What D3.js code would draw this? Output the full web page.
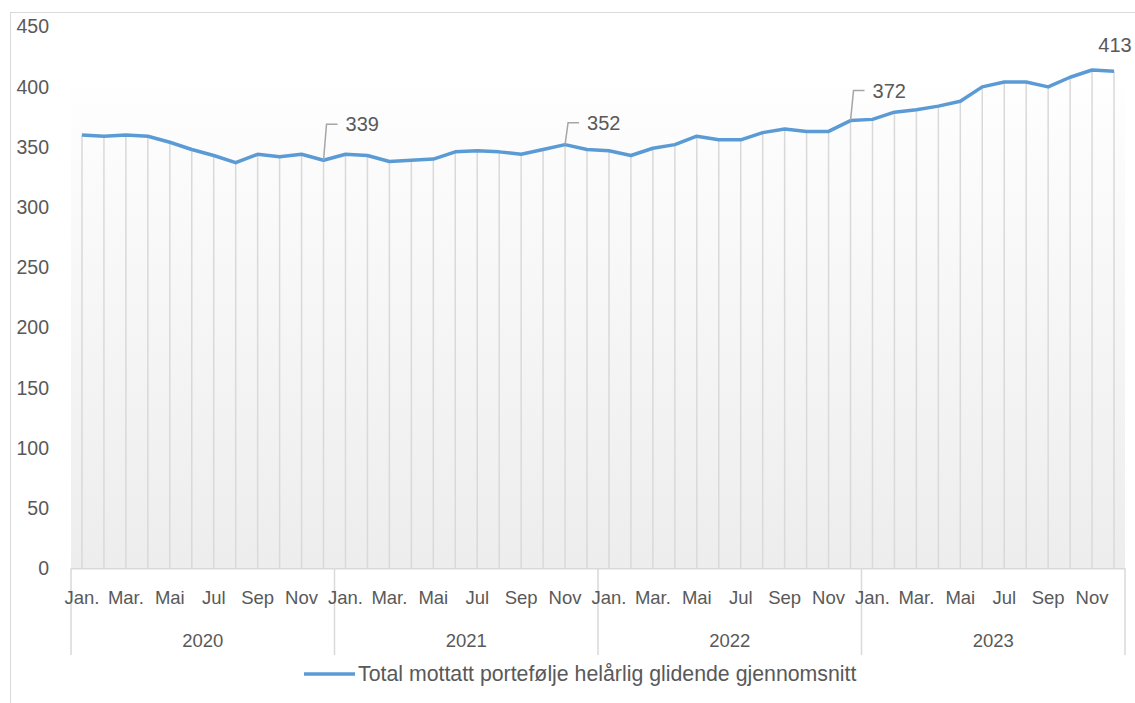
<!DOCTYPE html>
<html>
<head>
<meta charset="utf-8">
<script src="https://cdn.jsdelivr.net/npm/d3@7"></script>
<style>
  body { margin: 0; background: #fff; }
  text { font-family: "Liberation Sans", Arial, sans-serif; fill: #595959; }
</style>
</head>
<body>
<div id="myplot"></div>
<script>
// data
var years = ["2020", "2021", "2022", "2023"];
var monthLabels = ["Jan.", "", "Mar.", "", "Mai", "", "Jul", "", "Sep", "", "Nov", ""];
var values = [
  360, 359, 360, 359, 354, 348, 343, 337, 344, 342, 344, 339,
  344, 343, 338, 339, 340, 346, 347, 346, 344, 348, 352, 348,
  347, 343, 349, 352, 359, 356, 356, 362, 365, 363, 363, 372,
  373, 379, 381, 384, 388, 400, 404, 404, 400, 408, 414, 413
];
var labelIdx = [11, 22, 35, 47];
var yTicks = [0, 50, 100, 150, 200, 250, 300, 350, 400, 450];
var seriesName = "Total mottatt portefølje helårlig glidende gjennomsnitt";

var svg = d3.select('div#myplot')
  .append('svg')
  .attr('width', 1135)
  .attr('height', 703);

// chart frame
svg.append("rect")
  .attr("x", 10.5).attr("y", 12.5)
  .attr("width", 1140).attr("height", 700)
  .attr("fill", "none")
  .attr("stroke", "#d9d9d9");

var x = d3.scaleBand()
  .domain(d3.range(values.length))
  .range([71, 1125]);

var y = d3.scaleLinear()
  .domain([0, 450])
  .range([568.3, 26.7]);

var cx = i => x(i) + x.bandwidth() / 2;

// background gradient
var grad = svg.append("defs").append("linearGradient")
  .attr("id", "bg").attr("x1", 0).attr("y1", 0).attr("x2", 0).attr("y2", 1);
grad.append("stop").attr("offset", "0%").attr("stop-color", "#fefefe");
grad.append("stop").attr("offset", "100%").attr("stop-color", "#ededed");

svg.append("rect")
  .attr("x", x.range()[0]).attr("y", y(400) + 1)
  .attr("width", x.range()[1] - x.range()[0])
  .attr("height", y(0) - y(400) - 1)
  .attr("fill", "url(#bg)");

// drop lines
svg.append("g")
  .selectAll("line")
  .data(values)
  .enter()
  .append("line")
  .attr("x1", (d, i) => cx(i)).attr("x2", (d, i) => cx(i))
  .attr("y1", d => y(d)).attr("y2", y(0))
  .attr("stroke", "#d9d9d9")
  .attr("stroke-width", 1.5);

// y axis
var yAxis = svg.append("g")
  .attr("transform", "translate(" + x.range()[0] + ",0)")
  .call(d3.axisLeft(y).tickValues(yTicks).tickSize(0).tickPadding(22));
yAxis.select(".domain").remove();
yAxis.selectAll("text")
  .attr("font-size", 19.5)
  .style("font-family", "'Liberation Sans', Arial, sans-serif")
  .attr("fill", "#595959");

// category axis
var xAxis = svg.append("g").attr("id", "xaxis");
xAxis.append("line")
  .attr("x1", x.range()[0]).attr("x2", x.range()[1])
  .attr("y1", y(0) + 0.5).attr("y2", y(0) + 0.5)
  .attr("stroke", "#d9d9d9").attr("stroke-width", 1.5);

xAxis.selectAll("line.sep")
  .data(d3.range(years.length + 1))
  .enter()
  .append("line")
  .attr("class", "sep")
  .attr("x1", d => d < years.length ? x(d * 12) : x.range()[1])
  .attr("x2", d => d < years.length ? x(d * 12) : x.range()[1])
  .attr("y1", y(0))
  .attr("y2", 655)
  .attr("stroke", "#d9d9d9").attr("stroke-width", 1.5);

xAxis.selectAll("text.month")
  .data(d3.range(values.length).filter(i => monthLabels[i % 12] != ""))
  .enter()
  .append("text")
  .attr("class", "month")
  .attr("x", cx)
  .attr("y", 604)
  .attr("text-anchor", "middle")
  .attr("font-size", 18.5)
  .text(i => monthLabels[i % 12]);

xAxis.selectAll("text.year")
  .data(years)
  .enter()
  .append("text")
  .attr("class", "year")
  .attr("x", (d, i) => (x(i * 12) + (i < years.length - 1 ? x(i * 12 + 12) : x.range()[1])) / 2)
  .attr("y", 647)
  .attr("text-anchor", "middle")
  .attr("font-size", 18.5)
  .text(d => d);

// line
var line = d3.line()
  .x((d, i) => cx(i))
  .y(d => y(d));

svg.append("path")
  .datum(values)
  .attr("d", line)
  .attr("fill", "none")
  .attr("stroke", "#5b9bd5")
  .attr("stroke-width", 3.5)
  .attr("stroke-linejoin", "round");

// data labels with leader lines
var rise = {11: 36, 22: 22, 35: 30};
var labels = svg.append("g").attr("id", "labels");
labelIdx.forEach(function (i) {
  var px = cx(i), py = y(values[i]);
  if (rise[i]) {
    var ty = py - rise[i];
    labels.append("path")
      .attr("d", "M" + px + "," + py + "L" + (px + 3) + "," + ty + "L" + (px + 14) + "," + ty)
      .attr("fill", "none")
      .attr("stroke", "#a6a6a6")
      .attr("stroke-width", 1.5);
    labels.append("text")
      .attr("x", px + 22)
      .attr("y", ty + 7)
      .attr("font-size", 20)
      .text(values[i]);
  } else {
    labels.append("text")
      .attr("x", px + 1)
      .attr("y", py - 19)
      .attr("text-anchor", "middle")
      .attr("font-size", 20)
      .text(values[i]);
  }
});

// legend
var legend = svg.append("g").attr("id", "legend");
legend.append("line")
  .attr("x1", 304).attr("x2", 355)
  .attr("y1", 674).attr("y2", 674)
  .attr("stroke", "#5b9bd5")
  .attr("stroke-width", 3.5);
legend.append("text")
  .attr("x", 358).attr("y", 681)
  .attr("font-size", 21.3)
  .text(seriesName);
</script>
</body>
</html>
